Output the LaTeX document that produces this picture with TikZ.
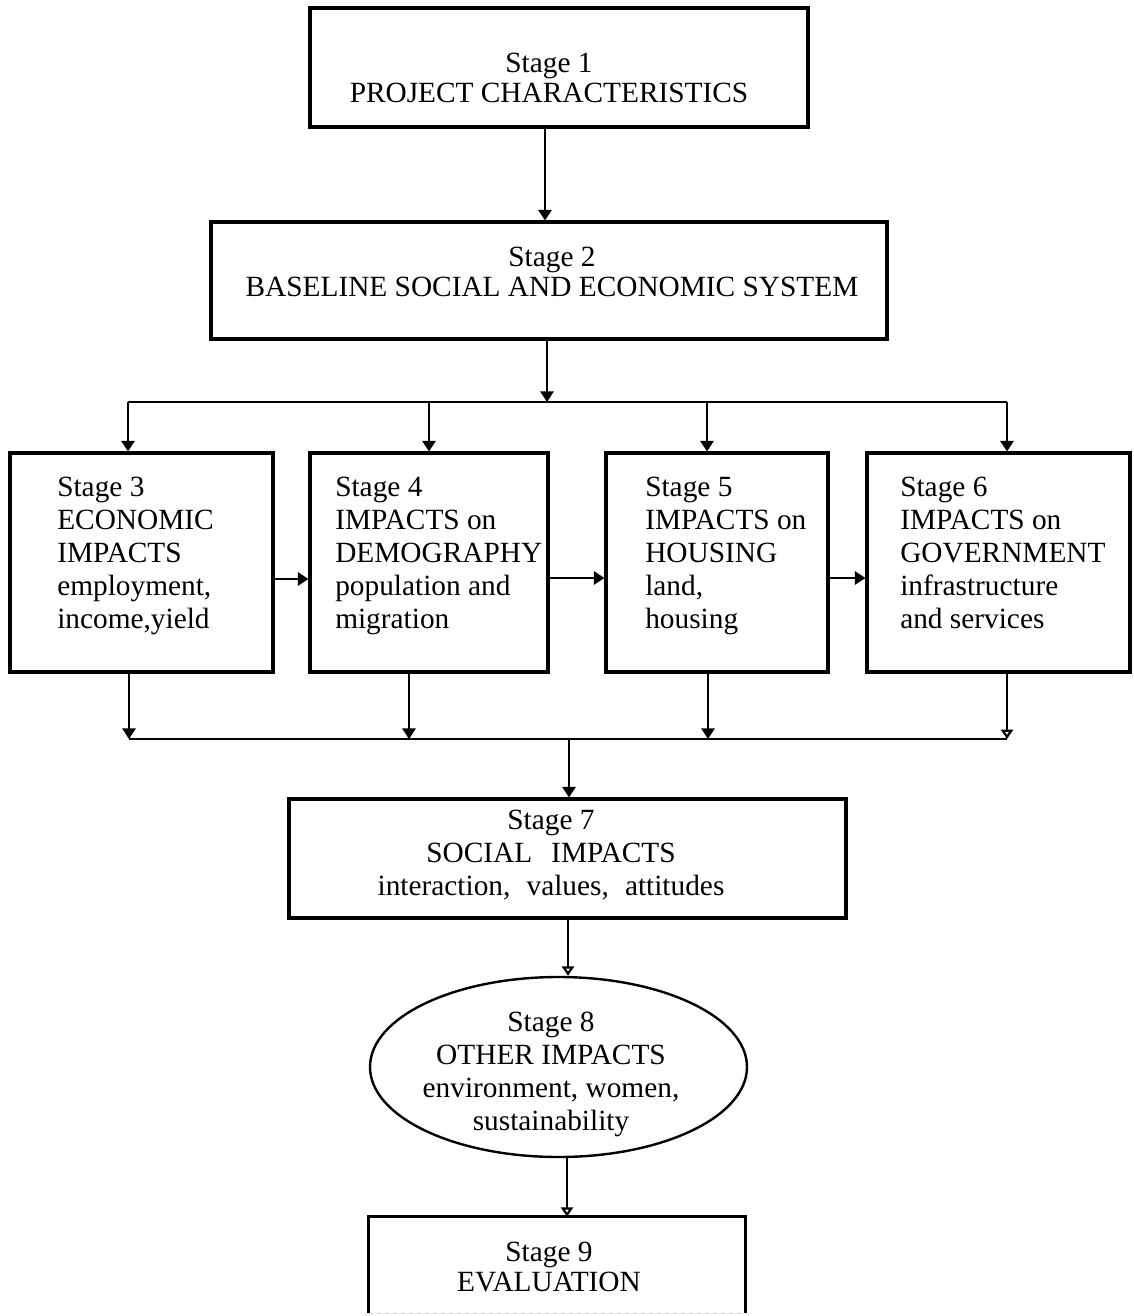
\documentclass[tikz,border=0pt]{standalone}
\usepackage{fontspec}
\setmainfont{Liberation Serif}
\usetikzlibrary{arrows.meta,shapes.geometric,fit}
\begin{document}
\begin{tikzpicture}[x=0.75pt,y=-0.75pt,
  box/.style={draw,line width=2.3pt,inner sep=0pt,rectangle},
  oval/.style={draw,line width=1.8pt,ellipse,inner sep=0pt,minimum width=282.75pt,minimum height=135pt},
  bigtxt/.style={inner sep=0pt,font=\fontsize{22}{22.5}\selectfont,align=center,anchor=north},
  midtxt/.style={inner sep=0pt,font=\fontsize{22}{24.75}\selectfont,align=center,anchor=north},
  lefttxt/.style={inner sep=0pt,font=\fontsize{22}{24.75}\selectfont,align=left,anchor=north west},
  conn/.style={line width=1.7pt},
  arr/.style={conn,-{Triangle[length=8pt,width=10pt]}},
  oarr/.style={conn,-{Triangle[open,length=7pt,width=9pt]}}]
\fill[white] (0,0) rectangle (1134,1316);
\useasboundingbox (0,0) rectangle (1134,1316);

% boxes
\node[box,fit={(310,8) (808,127)}] (s1) {};
\node[box,fit={(211,222) (887,339)}] (s2) {};
\node[box,fit={(10,453) (273,672)}] (s3) {};
\node[box,fit={(310,453) (548,672)}] (s4) {};
\node[box,fit={(606,453) (828,672)}] (s5) {};
\node[box,fit={(867,453) (1130,672)}] (s6) {};
\node[box,fit={(289,799) (846,918)}] (s7) {};
\node[oval] (s8) at (558.5,1067) {};
\node[inner sep=0pt,fit={(369,1217) (745,1313)}] (s9) {};
\draw[line width=2.3pt] (s9.south west) -- (s9.north west) -- (s9.north east) -- (s9.south east);
\draw[line width=1pt,gray!40,dashed] (s9.south west) -- (s9.south east);

% texts
\node[bigtxt] (t1) at (549,53) {Stage 1\\PROJECT CHARACTERISTICS};
\node[bigtxt] (t2) at (552,247) {Stage 2\\BASELINE SOCIAL AND ECONOMIC SYSTEM};
\node[lefttxt] (t3) at (57,477) {Stage 3\\ECONOMIC\\IMPACTS\\employment,\\income,yield};
\node[lefttxt] (t4) at (335,477) {Stage 4\\IMPACTS on\\DEMOGRAPHY\\population and\\migration};
\node[lefttxt] (t5) at (645,477) {Stage 5\\IMPACTS on\\HOUSING\\land,\\housing};
\node[lefttxt] (t6) at (900,477) {Stage 6\\IMPACTS on\\GOVERNMENT\\infrastructure\\and services};
\node[midtxt] (t7) at (551,810) {Stage 7\\SOCIAL\hspace{0.4em} IMPACTS\\interaction,\hspace{0.3em} values,\hspace{0.3em} attitudes};
\node[midtxt] (t8) at (551,1012) {Stage 8\\OTHER IMPACTS\\environment, women,\\sustainability};
\node[bigtxt] (t9) at (549,1242) {Stage 9\\EVALUATION};

% connector points
\coordinate (a1) at (545,127);
\coordinate (a2) at (547,339);
\coordinate (bm) at (547,402);
\coordinate (b3) at (128,402);
\coordinate (b4) at (429,402);
\coordinate (b5) at (707,402);
\coordinate (b6) at (1007,402);
\coordinate (c3) at (129,672);
\coordinate (c4) at (409,672);
\coordinate (c5) at (708,672);
\coordinate (c6) at (1007,672);
\coordinate (d3) at (129,739);
\coordinate (d4) at (409,739);
\coordinate (d5) at (708,739);
\coordinate (d6) at (1007,739);
\coordinate (dm) at (569,739);
\coordinate (e7) at (568,918);
\coordinate (e8) at (567,1157);

% connectors
\draw[arr] (a1) -- (a1 |- s2.north);
\draw[arr] (a2) -- (bm);
\draw[conn] (b3) -- (b6);
\draw[arr] (b3) -- (b3 |- s3.north);
\draw[arr] (b4) -- (b4 |- s4.north);
\draw[arr] (b5) -- (b5 |- s5.north);
\draw[arr] (b6) -- (b6 |- s6.north);
\draw[arr] (s3.east |- 0,579) -- (s4.west |- 0,579);
\draw[arr] (s4.east |- 0,578) -- (s5.west |- 0,578);
\draw[arr] (s5.east |- 0,578) -- (s6.west |- 0,578);
\draw[arr] (c3) -- (d3);
\draw[arr] (c4) -- (d4);
\draw[arr] (c5) -- (d5);
\draw[oarr] (c6) -- (d6);
\draw[conn] (d3) -- (d6);
\draw[arr] (dm) -- (dm |- s7.north);
\draw[oarr] (e7) -- (e7 |- s8.north);
\draw[oarr] (e8) -- (e8 |- s9.north);
\end{tikzpicture}
\end{document}
